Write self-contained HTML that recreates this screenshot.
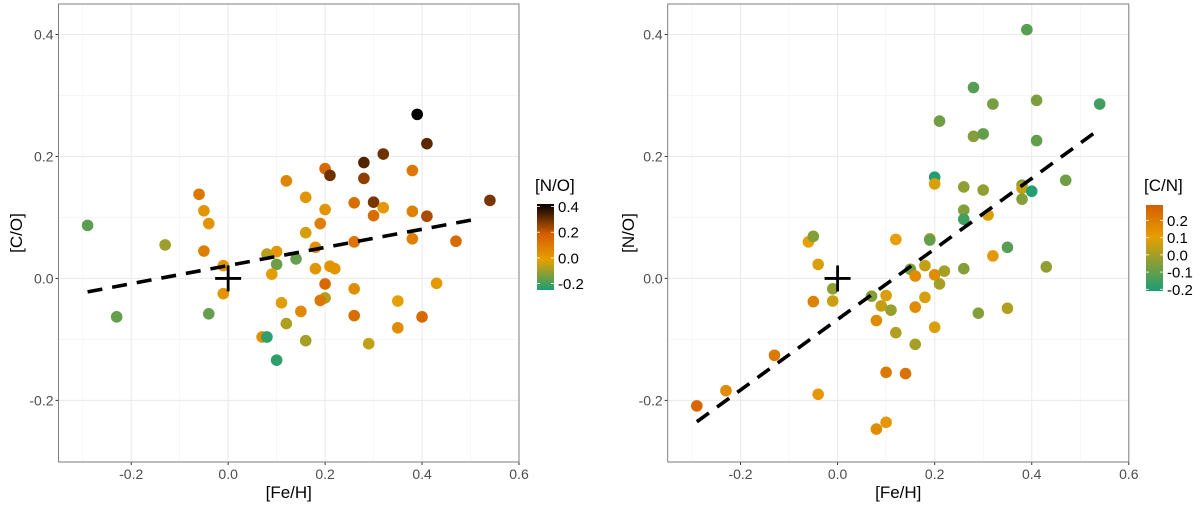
<!DOCTYPE html>
<html><head><meta charset="utf-8"><style>
html,body{margin:0;padding:0;background:#fff;}
svg{display:block;font-family:"Liberation Sans",Arial,sans-serif;}
</style></head><body>
<svg id="chart" width="1200" height="507" viewBox="0 0 1200 507" xmlns="http://www.w3.org/2000/svg">
<defs>
<linearGradient id="gradNO" x1="0" y1="1" x2="0" y2="0">
<stop offset="0" stop-color="#1b9e77"/><stop offset="0.35" stop-color="#e69f00"/><stop offset="0.65" stop-color="#d55e00"/><stop offset="1" stop-color="#000"/>
</linearGradient>
<linearGradient id="gradCN" x1="0" y1="1" x2="0" y2="0">
<stop offset="0" stop-color="#1b9e77"/><stop offset="0.62" stop-color="#e69f00"/><stop offset="1" stop-color="#d55e00"/>
</linearGradient>
</defs>
</svg>
<script>
// ---- Left panel data ----
const leftFeH = [-0.29,-0.23,-0.13,-0.04,-0.06,-0.05,-0.04,-0.05,-0.01,-0.01,0.08,0.10,0.10,0.09,0.14,0.12,0.16,0.16,0.18,0.18,0.20,0.19,0.20,0.21,0.21,0.22,0.20,0.20,0.19,0.11,0.15,0.12,0.07,0.08,0.10,0.16,0.26,0.26,0.26,0.26,0.28,0.28,0.30,0.30,0.32,0.32,0.29,0.35,0.35,0.38,0.38,0.38,0.39,0.41,0.41,0.40,0.43,0.47,0.54];
const leftCO = [0.087,-0.063,0.055,-0.058,0.138,0.111,0.09,0.045,0.021,-0.025,0.04,0.044,0.023,0.007,0.032,0.16,0.133,0.075,0.051,0.016,0.113,0.09,0.18,0.169,0.02,0.016,-0.009,-0.032,-0.036,-0.04,-0.054,-0.074,-0.096,-0.096,-0.134,-0.102,0.124,0.06,-0.017,-0.061,0.19,0.164,0.125,0.103,0.204,0.116,-0.107,-0.037,-0.081,0.177,0.11,0.065,0.269,0.221,0.102,-0.063,-0.008,0.061,0.128];
const leftNO = [-0.15,-0.14,-0.08,-0.14,0.12,0.03,0.04,0.1,0.03,0.03,-0.05,0.03,-0.13,0.01,-0.14,0.08,0.03,-0.02,0.05,0.03,0.03,0.1,0.17,0.3,0.03,0.03,0.17,-0.06,0.12,-0.01,0.07,-0.06,0.05,-0.2,-0.2,-0.07,0.15,0.13,0.06,0.15,0.33,0.27,0.29,0.15,0.3,0.02,-0.04,0.0,0.06,0.12,0.1,0.1,0.41,0.32,0.24,0.17,0.02,0.16,0.29];
const leftFit = [[-0.29,-0.022],[0.51,0.097]];
// ---- Right panel data ----
const rightFeH = [-0.29,-0.23,-0.13,-0.06,-0.05,-0.04,-0.05,-0.04,-0.01,-0.01,0.07,0.08,0.08,0.09,0.10,0.10,0.10,0.11,0.12,0.12,0.14,0.15,0.16,0.16,0.16,0.18,0.18,0.19,0.19,0.20,0.20,0.20,0.20,0.21,0.21,0.22,0.26,0.26,0.26,0.26,0.28,0.28,0.29,0.30,0.30,0.31,0.32,0.32,0.35,0.35,0.38,0.38,0.38,0.39,0.40,0.41,0.41,0.43,0.47,0.54];
const rightNO = [-0.209,-0.184,-0.126,0.06,0.069,0.023,-0.038,-0.19,-0.017,-0.037,-0.029,-0.069,-0.247,-0.045,-0.028,-0.154,-0.236,-0.052,0.064,-0.089,-0.156,0.015,0.004,-0.047,-0.108,0.021,-0.031,0.065,0.063,0.166,0.155,0.006,-0.08,0.258,-0.009,0.012,0.15,0.112,0.097,0.016,0.313,0.233,-0.057,0.237,0.145,0.104,0.286,0.037,0.051,-0.049,0.153,0.148,0.13,0.408,0.143,0.292,0.226,0.019,0.161,0.286];
const rightCN = [0.25,0.15,0.2,0.1,-0.05,0.08,0.18,0.12,-0.03,0.06,-0.05,0.15,0.15,0.05,0.08,0.2,0.12,-0.02,0.1,0.02,0.22,-0.06,0.15,0.15,0.0,0.05,0.08,0.05,-0.1,-0.2,0.08,0.15,0.08,-0.08,0.0,0.0,-0.03,-0.05,-0.15,-0.05,-0.12,-0.05,-0.05,-0.1,-0.03,0.08,-0.07,0.12,-0.12,0.02,-0.05,0.05,-0.05,-0.12,-0.2,-0.06,-0.1,-0.03,-0.08,-0.15];
const rightFit = [[-0.29,-0.235],[0.54,0.245]];
const xTicks = [-0.2,0.0,0.2,0.4,0.6];
const xTickLabels = ["-0.2","0.0","0.2","0.4","0.6"];
const yTicks = [-0.2,0.0,0.2,0.4];
const yTickLabels = ["-0.2","0.0","0.2","0.4"];
const noLegendTicks = [0.4,0.2,0.0,-0.2];
const noLegendLabels = ["0.4","0.2","0.0","-0.2"];
const cnLegendTicks = [0.2,0.1,0.0,-0.1,-0.2];
const cnLegendLabels = ["0.2","0.1","0.0","-0.1","-0.2"];

const svg = document.getElementById('chart');
const NS = 'http://www.w3.org/2000/svg';
function mk(tag, attrs, parent){const e=document.createElementNS(NS,tag);for(const k in attrs)e.setAttribute(k,attrs[k]);(parent||svg).appendChild(e);return e;}
function hex(c){return [parseInt(c.slice(1,3),16),parseInt(c.slice(3,5),16),parseInt(c.slice(5,7),16)];}
function ramp(stops,v){
  if(v<=stops[0][0])return stops[0][1];
  for(let i=1;i<stops.length;i++){if(v<=stops[i][0]){const a=hex(stops[i-1][1]),b=hex(stops[i][1]);const t=(v-stops[i-1][0])/(stops[i][0]-stops[i-1][0]);return 'rgb('+a.map((x,j)=>Math.round(x+(b[j]-x)*t)).join(',')+')';}}
  return stops[stops.length-1][1];
}
const noStops=[[-0.22,'#1b9e77'],[0.0,'#e69f00'],[0.2,'#d55e00'],[0.41,'#000000']];
const cnStops=[[-0.21,'#1b9e77'],[0.1,'#e69f00'],[0.27,'#d55e00']];

function panel(cfg){
  const g=mk('g',{});
  
  
  const X=v=>cfg.x0+(v-cfg.xmin)/(cfg.xmax-cfg.xmin)*(cfg.x1-cfg.x0);
  const Y=v=>cfg.y1-(v-cfg.ymin)/(cfg.ymax-cfg.ymin)*(cfg.y1-cfg.y0);
  [-0.3,-0.1,0.1,0.3,0.5].forEach(v=>mk('line',{x1:X(v),x2:X(v),y1:cfg.y0,y2:cfg.y1,stroke:'#f2f2f2','stroke-width':0.6},g));
  [-0.3,-0.1,0.1,0.3].forEach(v=>mk('line',{x1:cfg.x0,x2:cfg.x1,y1:Y(v),y2:Y(v),stroke:'#f2f2f2','stroke-width':0.6},g));
  xTicks.forEach((v,i)=>{mk('line',{x1:X(v),x2:X(v),y1:cfg.y0,y2:cfg.y1,stroke:'#ebebeb','stroke-width':1.1},g);
    mk('line',{x1:X(v),x2:X(v),y1:cfg.y1,y2:cfg.y1+3,stroke:'#333','stroke-width':1},g);
    const t=mk('text',{x:X(v),y:cfg.y1+17,'text-anchor':'middle','font-size':14,fill:'#4d4d4d'},g);t.textContent=xTickLabels[i];
    });
  yTicks.forEach((v,i)=>{mk('line',{x1:cfg.x0,x2:cfg.x1,y1:Y(v),y2:Y(v),stroke:'#ebebeb','stroke-width':1.1},g);
    mk('line',{x1:cfg.x0-3,x2:cfg.x0,y1:Y(v),y2:Y(v),stroke:'#333','stroke-width':1},g);
    const t=mk('text',{x:cfg.x0-5,y:Y(v)+5,'text-anchor':'end','font-size':14,fill:'#4d4d4d'},g);t.textContent=yTickLabels[i];
    });
  cfg.xs.forEach((xv,i)=>{const c=mk('circle',{cx:X(xv),cy:Y(cfg.ys[i]),r:5.8,fill:ramp(cfg.stops,cfg.cs[i])},g);
    });
  const fl=mk('line',{x1:X(cfg.fit[0][0]),y1:Y(cfg.fit[0][1]),x2:X(cfg.fit[1][0]),y2:Y(cfg.fit[1][1]),stroke:'#000','stroke-width':3.6,'stroke-dasharray':'15 10'},g);
  
  const cg=mk('g',{},g);
  mk('line',{x1:X(0)-13,x2:X(0)+13,y1:Y(0),y2:Y(0),stroke:'#000','stroke-width':2.8},cg);
  mk('line',{x1:X(0),x2:X(0),y1:Y(0)-13,y2:Y(0)+13,stroke:'#000','stroke-width':2.8},cg);
  mk('rect',{x:cfg.x0,y:cfg.y0,width:cfg.x1-cfg.x0,height:cfg.y1-cfg.y0,fill:'none',stroke:'#7f7f7f','stroke-width':1},g);
  const xt=mk('text',{x:(cfg.x0+cfg.x1)/2,y:498,'text-anchor':'middle','font-size':17,fill:'#000'},g);xt.textContent='[Fe/H]';
  
  const yt=mk('text',{x:0,y:0,'text-anchor':'middle','font-size':17,fill:'#000',transform:'translate('+cfg.ytx+','+((cfg.y0+cfg.y1)/2)+') rotate(-90)'},g);yt.textContent=cfg.ytitle;
  
  const lg=mk('g',{},g);
  const lt=mk('text',{x:cfg.lx-2,y:191,'font-size':17,fill:'#000'},lg);lt.textContent=cfg.ltitle;
  
  mk('rect',{x:cfg.lx,y:cfg.ly0,width:17,height:cfg.ly1-cfg.ly0,fill:cfg.grad},lg);
  const LY=v=>cfg.ly1-(v-cfg.lmin)/(cfg.lmax-cfg.lmin)*(cfg.ly1-cfg.ly0);
  cfg.lticks.forEach((v,i)=>{mk('line',{x1:cfg.lx,x2:cfg.lx+3,y1:LY(v),y2:LY(v),stroke:'#fff','stroke-width':0.8},lg);
    mk('line',{x1:cfg.lx+14,x2:cfg.lx+17,y1:LY(v),y2:LY(v),stroke:'#fff','stroke-width':0.8},lg);
    const t=mk('text',{x:cfg.lx+21,y:LY(v)+5.5,'font-size':15,fill:'#000'},lg);t.textContent=cfg.llabels[i];
    });
}
panel({name:'left-panel-co',x0:58.5,x1:519,y0:4,y1:462,xmin:-0.35,xmax:0.6,ymin:-0.301,ymax:0.45,
  xs:leftFeH,ys:leftCO,cs:leftNO,stops:noStops,fit:leftFit,ytitle:'[C/O]',ytx:22,
  ltitle:'[N/O]',lx:537,ly0:204,ly1:290,lmin:-0.25,lmax:0.42,grad:'url(#gradNO)',lticks:noLegendTicks,llabels:noLegendLabels});
panel({name:'right-panel-no',x0:667.7,x1:1128.8,y0:4,y1:462,xmin:-0.35,xmax:0.6,ymin:-0.301,ymax:0.45,
  xs:rightFeH,ys:rightNO,cs:rightCN,stops:cnStops,fit:rightFit,ytitle:'[N/O]',ytx:634,
  ltitle:'[C/N]',lx:1146,ly0:205,ly1:291,lmin:-0.21,lmax:0.29,grad:'url(#gradCN)',lticks:cnLegendTicks,llabels:cnLegendLabels});
</script>
</body></html>
